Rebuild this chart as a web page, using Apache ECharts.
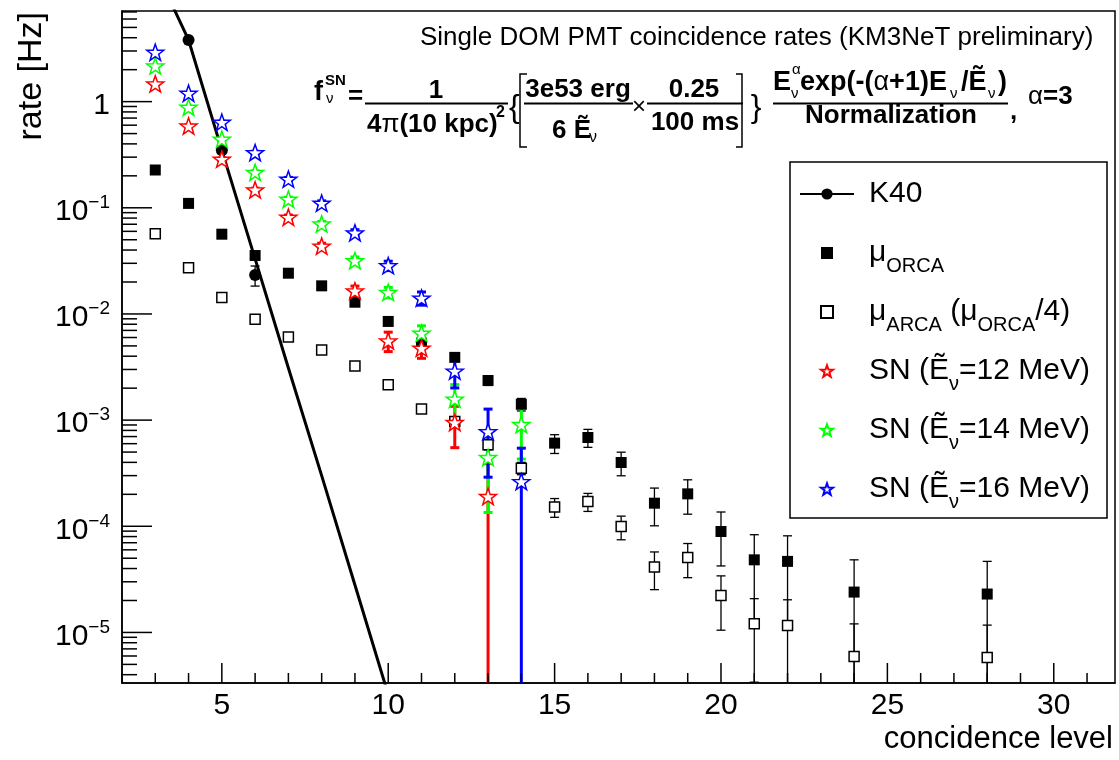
<!DOCTYPE html>
<html>
<head>
<meta charset="utf-8">
<script src="https://cdn.jsdelivr.net/npm/echarts@6/dist/echarts.min.js"></script>
<style>
  html, body { margin: 0; padding: 0; background: #fff; }
  #chart { width: 1119px; height: 760px; }
</style>
</head>
<body>
<div id="chart"></div>
<script>
// axis ranges
const X_MIN = 2, X_MAX = 31.84;
const Y_MIN = 3.34e-6, Y_MAX = 7.14;
const X_LABELS = [5, 10, 15, 20, 25, 30];

// K40: model line and measured points
const K40_LINE_X = [3, 4, 5, 6, 7, 8, 9, 10];
const K40_LINE = [17.8, 3.81, 0.349, 0.033, 3.1e-3, 3.0e-4, 2.8e-5, 2.6e-6];
const K40_X = [4, 5, 6];
const K40 = [3.81, 0.349, 0.0233];
const K40_ERR = [0.02, 0.004, 0.005];

// atmospheric muons
const MU_X = [3, 4, 5, 6, 7, 8, 9, 10, 11, 12, 13, 14, 15, 16, 17, 18, 19, 20, 21, 22, 24, 28];
const ORCA = [0.227, 0.110, 0.0564, 0.0355, 0.0242, 0.0184, 0.0129, 0.0085, 0.00531, 0.0039, 0.00236, 0.00141,
  6.07e-4, 6.86e-4, 3.99e-4, 1.65e-4, 2.02e-4, 8.93e-5, 4.83e-5, 4.67e-5, 2.4e-5, 2.3e-5];
const ORCA_ERR = [2.4e-3, 1.6e-3, 1.2e-3, 9.3e-4, 7.7e-4, 6.7e-4, 5.6e-4, 4.6e-4, 3.6e-4, 3.1e-4, 2.4e-4, 1.9e-4,
  1.22e-4, 1.32e-4, 1.0e-4, 6.4e-5, 7.2e-5, 4.7e-5, 3.5e-5, 3.46e-5, 2.43e-5, 2.37e-5];
const ARCA = [0.0568, 0.0273, 0.01427, 0.00893, 0.00605, 0.00457, 0.00324, 0.00215, 0.00127, 9.7e-4, 5.85e-4, 3.53e-4,
  1.52e-4, 1.71e-4, 9.96e-5, 4.13e-5, 5.08e-5, 2.23e-5, 1.21e-5, 1.16e-5, 5.94e-6, 5.82e-6];
const ARCA_ERR = [6e-4, 4e-4, 3e-4, 2.3e-4, 1.9e-4, 1.7e-4, 1.4e-4, 1.15e-4, 9e-5, 7.7e-5, 6e-5, 4.7e-5,
  3.05e-5, 3.3e-5, 2.5e-5, 1.6e-5, 1.8e-5, 1.18e-5, 8.7e-6, 8.7e-6, 6.1e-6, 5.9e-6];

// supernova signal
const SN12_X = [3, 4, 5, 6, 7, 8, 9, 10, 11, 12, 13];
const SN12 = [1.47, 0.59, 0.287, 0.1475, 0.0815, 0.0435, 0.0165, 0.00558, 0.00476, 9.5e-4, 1.91e-4];
const SN12_ERR = [1.7e-2, 1.1e-2, 7.6e-3, 5.4e-3, 4.0e-3, 2.9e-3, 1.8e-3, 1.16e-3, 9.4e-4, 4.0e-4, 2.0e-4];
const SN_X = [3, 4, 5, 6, 7, 8, 9, 10, 11, 12, 13, 14];
const SN14 = [2.17, 0.886, 0.443, 0.216, 0.1205, 0.0705, 0.0318, 0.016, 0.00659, 1.58e-3, 4.45e-4, 9.1e-4];
const SN14_ERR = [2.1e-2, 1.4e-2, 9.6e-3, 6.7e-3, 5.0e-3, 3.8e-3, 2.6e-3, 1.8e-3, 1.14e-3, 5.8e-4, 3.1e-4, 4.8e-4];
const SN16 = [2.92, 1.20, 0.64, 0.331, 0.186, 0.1105, 0.0581, 0.0285, 0.0141, 2.9e-3, 7.8e-4, 2.64e-4];
const SN16_ERR = [2.9e-2, 1.9e-2, 1.36e-2, 9.8e-3, 7.3e-3, 5.7e-3, 4.1e-3, 2.9e-3, 2.0e-3, 8.9e-4, 4.9e-4, 2.8e-4];

const FONT = '"Liberation Sans", Arial, Helvetica, sans-serif';
const STAR = 'path://M0,-10L2.35,-3.24L9.51,-3.09L3.8,1.24L5.88,8.09L0,4L-5.88,8.09L-3.8,1.24L-9.51,-3.09L-2.35,-3.24Z';

const LEGEND_TEXT = {
  'K40': '{t|K40}',
  'muORCA': '{t|μ}{s|ORCA}',
  'muARCA': '{t|μ}{s|ARCA}{t| (μ}{s|ORCA}{t|/4)}',
  'SN12': '{t|SN (Ẽ}{s|ν}{t|=12 MeV)}',
  'SN14': '{t|SN (Ẽ}{s|ν}{t|=14 MeV)}',
  'SN16': '{t|SN (Ẽ}{s|ν}{t|=16 MeV)}'
};
const LEGEND_RICH = {
  t: { fontSize: 30, lineHeight: 46, fontFamily: FONT, color: '#000', verticalAlign: 'middle' },
  s: { fontSize: 20, lineHeight: 20, fontFamily: FONT, color: '#000', padding: [26, 0, 0, 0], verticalAlign: 'middle' }
};

// tick marks (ROOT style, drawn inside the frame)
const yTicks = [];
for (let d = -6; d <= 1; d++) {
  for (let k = 1; k <= 9; k++) {
    const v = k * Math.pow(10, d);
    if (v >= Y_MIN && v <= Y_MAX) yTicks.push([X_MIN, v, k === 1 ? 30 : 15]);
  }
}
const xTicks = [];
for (let v = Math.ceil(X_MIN); v <= X_MAX; v++) {
  xTicks.push([v, Y_MIN, X_LABELS.includes(v) ? 20 : 10]);
}

function errSeries(name, xs, ys, es, color, width, cap) {
  return {
    type: 'custom', name: name, z: 3, silent: true,
    data: xs.map((x, i) => [x, ys[i], es[i]]),
    encode: { x: 0, y: 1 },
    renderItem: (params, api) => {
      const x = api.value(0), y = api.value(1), e = api.value(2);
      const lo = y - e, hi = Math.min(y + e, Y_MAX);
      const top = api.coord([x, hi]);
      const bot = api.coord([x, Math.max(lo, Y_MIN)]);
      const st = { stroke: color, lineWidth: width };
      const kids = [
        { type: 'line', shape: { x1: top[0], y1: top[1], x2: bot[0], y2: bot[1] }, style: st },
        { type: 'line', shape: { x1: top[0] - cap / 2, y1: top[1], x2: top[0] + cap / 2, y2: top[1] }, style: st }
      ];
      if (lo > Y_MIN) {
        kids.push({ type: 'line', shape: { x1: bot[0] - cap / 2, y1: bot[1], x2: bot[0] + cap / 2, y2: bot[1] }, style: st });
      }
      return { type: 'group', children: kids };
    }
  };
}

function markers(name, xs, ys, symbol, size, fill, stroke, bw) {
  return {
    type: 'scatter', name: name, z: 4, silent: true,
    data: xs.map((x, i) => [x, ys[i]]),
    symbol: symbol, symbolSize: size, symbolKeepAspect: true,
    itemStyle: { color: fill, borderColor: stroke, borderWidth: bw, opacity: 1 },
    emphasis: { disabled: true }
  };
}

function tickSeries(data, vertical) {
  return {
    type: 'custom', silent: true, z: 5, data: data,
    encode: { x: 0, y: 1 },
    renderItem: (params, api) => {
      const p = api.coord([api.value(0), api.value(1)]);
      const len = api.value(2);
      const shape = vertical
        ? { x1: p[0], y1: p[1], x2: p[0], y2: p[1] - len }
        : { x1: p[0], y1: p[1], x2: p[0] + len, y2: p[1] };
      return { type: 'line', shape: shape, style: { stroke: '#000', lineWidth: 1.5 } };
    }
  };
}

// formula / title helpers
function txt(x, y, text, size, bold, align) {
  return {
    type: 'text', x: x, y: y, z: 100, silent: true,
    style: {
      text: text, fill: '#000', align: align || 'left', verticalAlign: 'middle',
      font: (bold ? 'bold ' : '') + size + 'px ' + FONT
    }
  };
}
function rich(x, y, text, size) {
  const fs = size || 26;
  return {
    type: 'text', x: x, y: y, z: 100, silent: true,
    style: {
      text: text, fill: '#000', align: 'left', verticalAlign: 'middle',
      rich: {
        b: { fontSize: fs, fontWeight: 'bold', fontFamily: FONT, verticalAlign: 'middle' },
        g: { fontSize: fs, fontFamily: FONT, verticalAlign: 'middle' }
      }
    }
  };
}
function hline(x1, x2, y) {
  return { type: 'line', z: 100, silent: true, shape: { x1: x1, y1: y, x2: x2, y2: y }, style: { stroke: '#000', lineWidth: 1.8 } };
}
function bracket(pts) {
  return { type: 'polyline', z: 100, silent: true, shape: { points: pts }, style: { stroke: '#000', lineWidth: 1.5, fill: null } };
}

const legendBase = {
  orient: 'vertical', padding: 0, z: 20,
  selectedMode: false,
  formatter: name => LEGEND_TEXT[name]
};

const chart = echarts.init(document.getElementById('chart'));
chart.setOption({
  animation: false,
  backgroundColor: '#fff',
  grid: {
    left: 122, top: 11, width: 993, height: 672, outerBoundsMode: 'none', containLabel: false,
    show: true, borderColor: '#000', borderWidth: 1.5, backgroundColor: 'transparent'
  },
  xAxis: {
    type: 'value', min: X_MIN, max: X_MAX, interval: 1,
    axisLine: { show: true, lineStyle: { color: '#000', width: 1.5 } },
    axisTick: { show: false }, splitLine: { show: false },
    axisLabel: {
      color: '#000', fontSize: 30, fontFamily: FONT, margin: 8,
      formatter: v => (X_LABELS.includes(v) ? String(v) : '')
    }
  },
  yAxis: {
    type: 'log', logBase: 10, min: Y_MIN, max: Y_MAX,
    axisLine: { show: true, lineStyle: { color: '#000', width: 1.5 } },
    axisTick: { show: false }, splitLine: { show: false }, minorTick: { show: false },
    axisLabel: {
      color: '#000', margin: 12, padding: [8, 0, 0, 0],
      formatter: v => {
        const l = Math.log10(v), e = Math.round(l);
        if (Math.abs(l - e) > 1e-6) return '';
        if (e === 0) return '{b|1}';
        return '{b|10}{e|\u2212' + (-e) + '}';
      },
      rich: {
        b: { fontSize: 30, lineHeight: 30, fontFamily: FONT, color: '#000', verticalAlign: 'middle' },
        e: { fontSize: 19, lineHeight: 19, fontFamily: FONT, color: '#000', padding: [0, 0, 18, 0], verticalAlign: 'middle' }
      }
    },
    name: 'rate [Hz]', nameLocation: 'end', nameGap: 0, nameRotate: 90,
    nameTextStyle: { color: '#000', fontSize: 34, fontFamily: FONT, align: 'right', verticalAlign: 'bottom', padding: [0, 1, 73, 0] }
  },
  legend: [
    Object.assign({}, legendBase, {
      data: ['K40'], left: 799, top: 171,
      itemWidth: 54, itemHeight: 14,
      textStyle: { color: '#000', fontFamily: FONT, fontSize: 30, lineHeight: 46, padding: [0, 0, 0, 10], rich: LEGEND_RICH }
    }),
    Object.assign({}, legendBase, {
      data: ['muORCA', 'muARCA', 'SN12', 'SN14', 'SN16'], left: 820, top: 230,
      itemWidth: 12, itemHeight: 12, itemGap: 13,
      textStyle: { color: '#000', fontFamily: FONT, fontSize: 30, lineHeight: 46, padding: [0, 0, 0, 31], rich: LEGEND_RICH }
    })
  ],
  series: [
    tickSeries(yTicks, false),
    tickSeries(xTicks, true),
    {
      type: 'line', name: 'K40', z: 2, silent: true,
      data: K40_LINE_X.map((x, i) => [x, K40_LINE[i]]),
      symbol: 'circle', symbolSize: 12, showSymbol: false,
      lineStyle: { color: '#000', width: 3 }, itemStyle: { color: '#000' },
      emphasis: { disabled: true }
    },
    errSeries('errK40', K40_X, K40, K40_ERR, '#000', 1.3, 9),
    errSeries('errORCA', MU_X, ORCA, ORCA_ERR, '#000', 1.3, 9),
    errSeries('errARCA', MU_X, ARCA, ARCA_ERR, '#000', 1.3, 9),
    errSeries('err12', SN12_X, SN12, SN12_ERR, '#ff0000', 3, 9),
    errSeries('err14', SN_X, SN14, SN14_ERR, '#00ff00', 3, 9),
    errSeries('err16', SN_X, SN16, SN16_ERR, '#0000ff', 3, 9),
    markers('K40pts', K40_X, K40, 'circle', 12, '#000', '#000', 0),
    markers('muORCA', MU_X, ORCA, 'rect', 11, '#000', '#000', 0),
    markers('muARCA', MU_X, ARCA, 'rect', 10, '#fff', '#000', 1.5),
    markers('SN12', SN12_X, SN12, STAR, 17, '#fff', '#ff0000', 1.5),
    markers('SN14', SN_X, SN14, STAR, 17, '#fff', '#00ff00', 1.5),
    markers('SN16', SN_X, SN16, STAR, 17, '#fff', '#0000ff', 1.5)
  ],
  graphic: {
    elements: [
      // legend frame
      { type: 'rect', z: 15, silent: true, shape: { x: 790, y: 162, width: 317, height: 356 },
        style: { fill: '#fff', stroke: '#000', lineWidth: 1.5 } },
      // x axis title (ROOT places it right-aligned under the tick labels)
      txt(1113, 739, 'concidence level', 31, false, 'right'),
      txt(420, 38, 'Single DOM PMT coincidence rates (KM3NeT preliminary)', 26, false),
      // f_nu^SN = 1 / (4 pi (10 kpc)^2)
      txt(314, 93, 'f', 27, true),
      txt(325, 81, 'SN', 15, true),
      txt(326, 99, 'ν', 15, false),
      txt(348, 97, '=', 26, true),
      hline(365, 508, 103.5),
      txt(436, 91, '1', 26, true, 'center'),
      rich(367, 125, '{b|4}{g|π}{b|(10 kpc)}'),
      txt(496, 113, '2', 16, true),
      // { [ 3e53 erg / 6 E x 0.25 / 100 ms ] }
      txt(509, 108, '{', 32, false),
      bracket([[527, 74], [520, 74], [520, 147], [527, 147]]),
      txt(578, 90, '3e53 erg', 26, true, 'center'),
      hline(524, 633, 103.5),
      txt(552, 131, '6 Ẽ', 26, true),
      txt(589, 138, 'ν', 16, false),
      txt(639, 107, '×', 24, false, 'center'),
      txt(694, 90, '0.25', 26, true, 'center'),
      hline(647, 743, 103.5),
      txt(695, 123, '100 ms', 26, true, 'center'),
      bracket([[736, 74], [742, 74], [742, 147], [736, 147]]),
      txt(756, 108, '}', 32, false, 'center'),
      // spectrum / Normalization
      hline(773, 1008, 103.5),
      txt(773, 83, 'E', 27, true),
      txt(792, 70, 'α', 15, false),
      txt(791, 94, 'ν', 15, false),
      rich(800, 83, '{b|exp(-(}{g|α}{b|+1)E}', 27),
      txt(950, 94, 'ν', 15, false),
      rich(961, 83, '{b|/Ẽ}', 27),
      txt(988, 94, 'ν', 15, false),
      txt(998, 83, ')', 27, true),
      txt(891, 116, 'Normalization', 26, true, 'center'),
      txt(1010, 112, ',', 26, true),
      rich(1028, 97, '{g|α}{b|=3}')
    ]
  }
});
</script>
</body>
</html>
